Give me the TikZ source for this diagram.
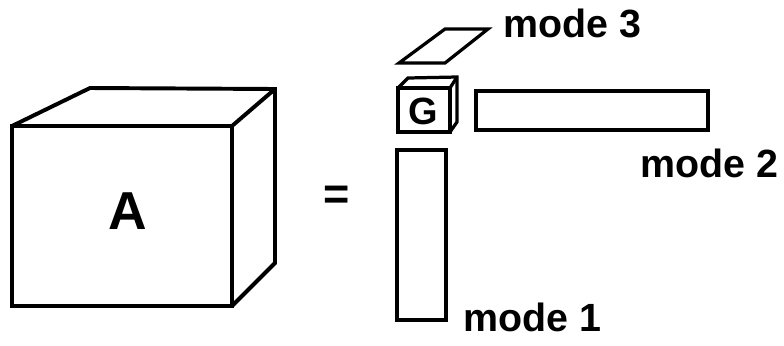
\documentclass[tikz,border=0pt]{standalone}
\usepackage{fontspec}
\setmainfont{Liberation Sans}
\usepackage{tikz}
\usetikzlibrary{positioning, calc}
\tikzset{
  thickline/.style={draw=black, line width=2.8pt, line join=miter},
  thinline/.style={draw=black, line width=2.3pt, line join=miter},
  lbl/.style={font=\fontsize{28}{30}\selectfont\bfseries, inner sep=0pt},
  bigletter/.style={font=\fontsize{38}{40}\selectfont\bfseries, inner sep=0pt},
}

\begin{document}
\begin{tikzpicture}[x=0.025cm, y=-0.025cm]
  \useasboundingbox (0,0) rectangle (784,345);

  % Tensor A (big cube)
  \draw[thickline] (12,126) rectangle (232,306);
  \draw[thickline] (12,126) -- (90,88) -- (275,89) -- (275,263) -- (232,306);
  \draw[thickline] (232,126) -- (275,89);
  \node[bigletter] (A) at (128,211) {A};

  % equals sign
  \node[font=\fontsize{32}{34}\selectfont\bfseries, inner sep=0pt] (eq) at (337,198) {=};

  % Core tensor G (small cube)
  \draw[thinline] (398,88) rectangle (450,132);
  \draw[thinline] (398,88) -- (408,78) -- (457,77) -- (457,122) -- (450,132);
  \draw[thinline] (450,88) -- (457,77);
  \node[font=\fontsize{27}{29}\selectfont\bfseries, inner sep=0pt] (G) at (423,111) {G};

  % Factor matrices
  \draw[thinline] (399,63) -- (445,63) -- (488,29) -- (445,29) -- cycle;
  \draw[thinline] (476,91) rectangle (708,130);
  \draw[thinline] (397,150) rectangle (446,320);

  % Mode labels
  \node[lbl, anchor=base west] (m3) at (503,37) {mode 3};
  \node[lbl, anchor=base west] (m2) at (640,177) {mode 2};
  \node[lbl, anchor=base west] (m1) at (463,331) {mode 1};
\end{tikzpicture}
\end{document}
